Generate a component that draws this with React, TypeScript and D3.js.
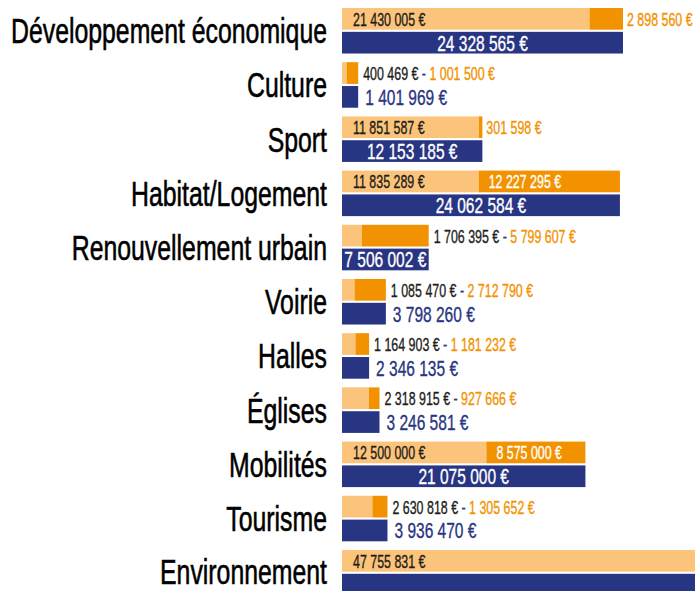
import React from "react";
import * as d3 from "d3";

const categories = [
  "Développement économique",
  "Culture",
  "Sport",
  "Habitat/Logement",
  "Renouvellement urbain",
  "Voirie",
  "Halles",
  "Églises",
  "Mobilités",
  "Tourisme",
  "Environnement",
];
const firstValues = [21430005, 400469, 11851587, 11835289, 1706395, 1085470, 1164903, 2318915, 12500000, 2630818, 47755831];
const secondValues = [2898560, 1001500, 301598, 12227295, 5799607, 2712790, 1181232, 927666, 8575000, 1305652, 0];
const totals = [24328565, 1401969, 12153185, 24062584, 7506002, 3798260, 2346135, 3246581, 21075000, 3936470, 47755831];

const W = 695;
const H = 591;
const LIGHT = "#fbc47a";
const ORANGE = "#f39200";
const NAVY = "#283582";
const BLACK = "#1d1d1b";
const FONT = "'Liberation Sans', Arial, sans-serif";
const SX = 0.69;

const loc = d3.formatLocale({ decimal: ",", thousands: "\u00a0", grouping: [3], currency: ["", " €"] });
const fmtNum = loc.format(",d");
const euro = (v: number) => fmtNum(v) + "\u00a0€";

function estWidth(s: string, fs: number) {
  let w = 0;
  for (const c of s) w += c === " " || c === "\u00a0" ? 0.278 : c === "-" ? 0.333 : 0.556;
  return w * fs * SX;
}

function T({ x, y, anchor = "start", size, fill, children, sw = 0.35 }: any) {
  return (
    <text
      transform={`translate(${x},${y}) scale(${SX},1)`}
      textAnchor={anchor}
      fontSize={size}
      fill={fill}
      fontFamily={FONT}
      stroke={fill}
      strokeWidth={sw}
    >
      {children}
    </text>
  );
}

export default function App() {
  const y = d3.scaleBand<string>().domain(categories).range([8, 595.5]).paddingInner(0.16).paddingOuter(0).align(0);
  const sub = d3.scaleBand<string>().domain(["split", "total"]).range([0, y.bandwidth()]).paddingInner(0.09);
  const x = d3.scaleLinear().domain([0, 60000000]).range([342, 1035]);
  const SMALL = 18;
  const BIG = 22.5;

  return (
    <svg width={W} height={H} style={{ position: "absolute", left: 0, top: 0, background: "#fff" }}>
      {categories.map((cat, i) => {
        const y0 = y(cat)!;
        const ySplit = y0 + sub("split")!;
        const yTot = y0 + sub("total")!;
        const bh = sub.bandwidth();
        const a = firstValues[i];
        const b = secondValues[i];
        const t = totals[i];
        const xa = x(a);
        const xb = x(a + b);
        const xt = x(t);
        const cSplit = ySplit + bh / 2;
        const cTot = yTot + bh / 2;
        const la = euro(a);
        const lb = euro(b);
        const lt = euro(t);
        const aInside = xa - x(0) >= estWidth(la, SMALL) + 20;
        const bInside = xb - xa >= estWidth(lb, SMALL) + 20;
        const tInside = xt - x(0) >= estWidth(lt, BIG) + 2;
        const tVisible = xt <= W;
        const labels: any[] = [];
        if (aInside) {
          labels.push(
            <T key="a" x={x(0) + 11} y={cSplit + 7} size={SMALL} fill={BLACK}>{la}</T>
          );
          if (b > 0) {
            if (bInside) {
              labels.push(
                <T key="b" x={xa + 10} y={cSplit + 7} size={SMALL} fill="#fff">{lb}</T>
              );
            } else {
              labels.push(
                <T key="b" x={xb + 4} y={cSplit + 7} size={SMALL} fill={ORANGE}>{lb}</T>
              );
            }
          }
        } else {
          labels.push(
            <text
              key="ab"
              transform={`translate(${xb + 5},${cSplit + 7}) scale(${SX},1)`}
              fontSize={SMALL}
              fontFamily={FONT}
              strokeWidth={0.35}
            >
              <tspan fill={BLACK} stroke={BLACK}>{la}</tspan>
              <tspan fill={NAVY} stroke={NAVY}>{" - "}</tspan>
              <tspan fill={ORANGE} stroke={ORANGE}>{lb}</tspan>
            </text>
          );
        }
        if (tVisible) {
          if (tInside) {
            labels.push(
              <T key="t" x={(x(0) + xt) / 2} y={cTot + 8} anchor="middle" size={BIG} fill="#fff">{lt}</T>
            );
          } else {
            labels.push(
              <T key="t" x={xt + 7} y={cTot + 8} size={BIG} fill={NAVY}>{lt}</T>
            );
          }
        }
        return (
          <g key={cat}>
            <T x={327} y={Math.min(y0 + y.bandwidth() / 2 + 12.5, 584)} anchor="end" size={36} fill="#000" sw={0.6}>{cat}</T>
            <rect x={x(0)} y={ySplit} width={xa - x(0)} height={bh} fill={LIGHT} />
            {b > 0 && <rect x={xa} y={ySplit} width={xb - xa} height={bh} fill={ORANGE} />}
            <rect x={x(0)} y={yTot} width={xt - x(0)} height={bh} fill={NAVY} />
            {labels}
          </g>
        );
      })}
    </svg>
  );
}
